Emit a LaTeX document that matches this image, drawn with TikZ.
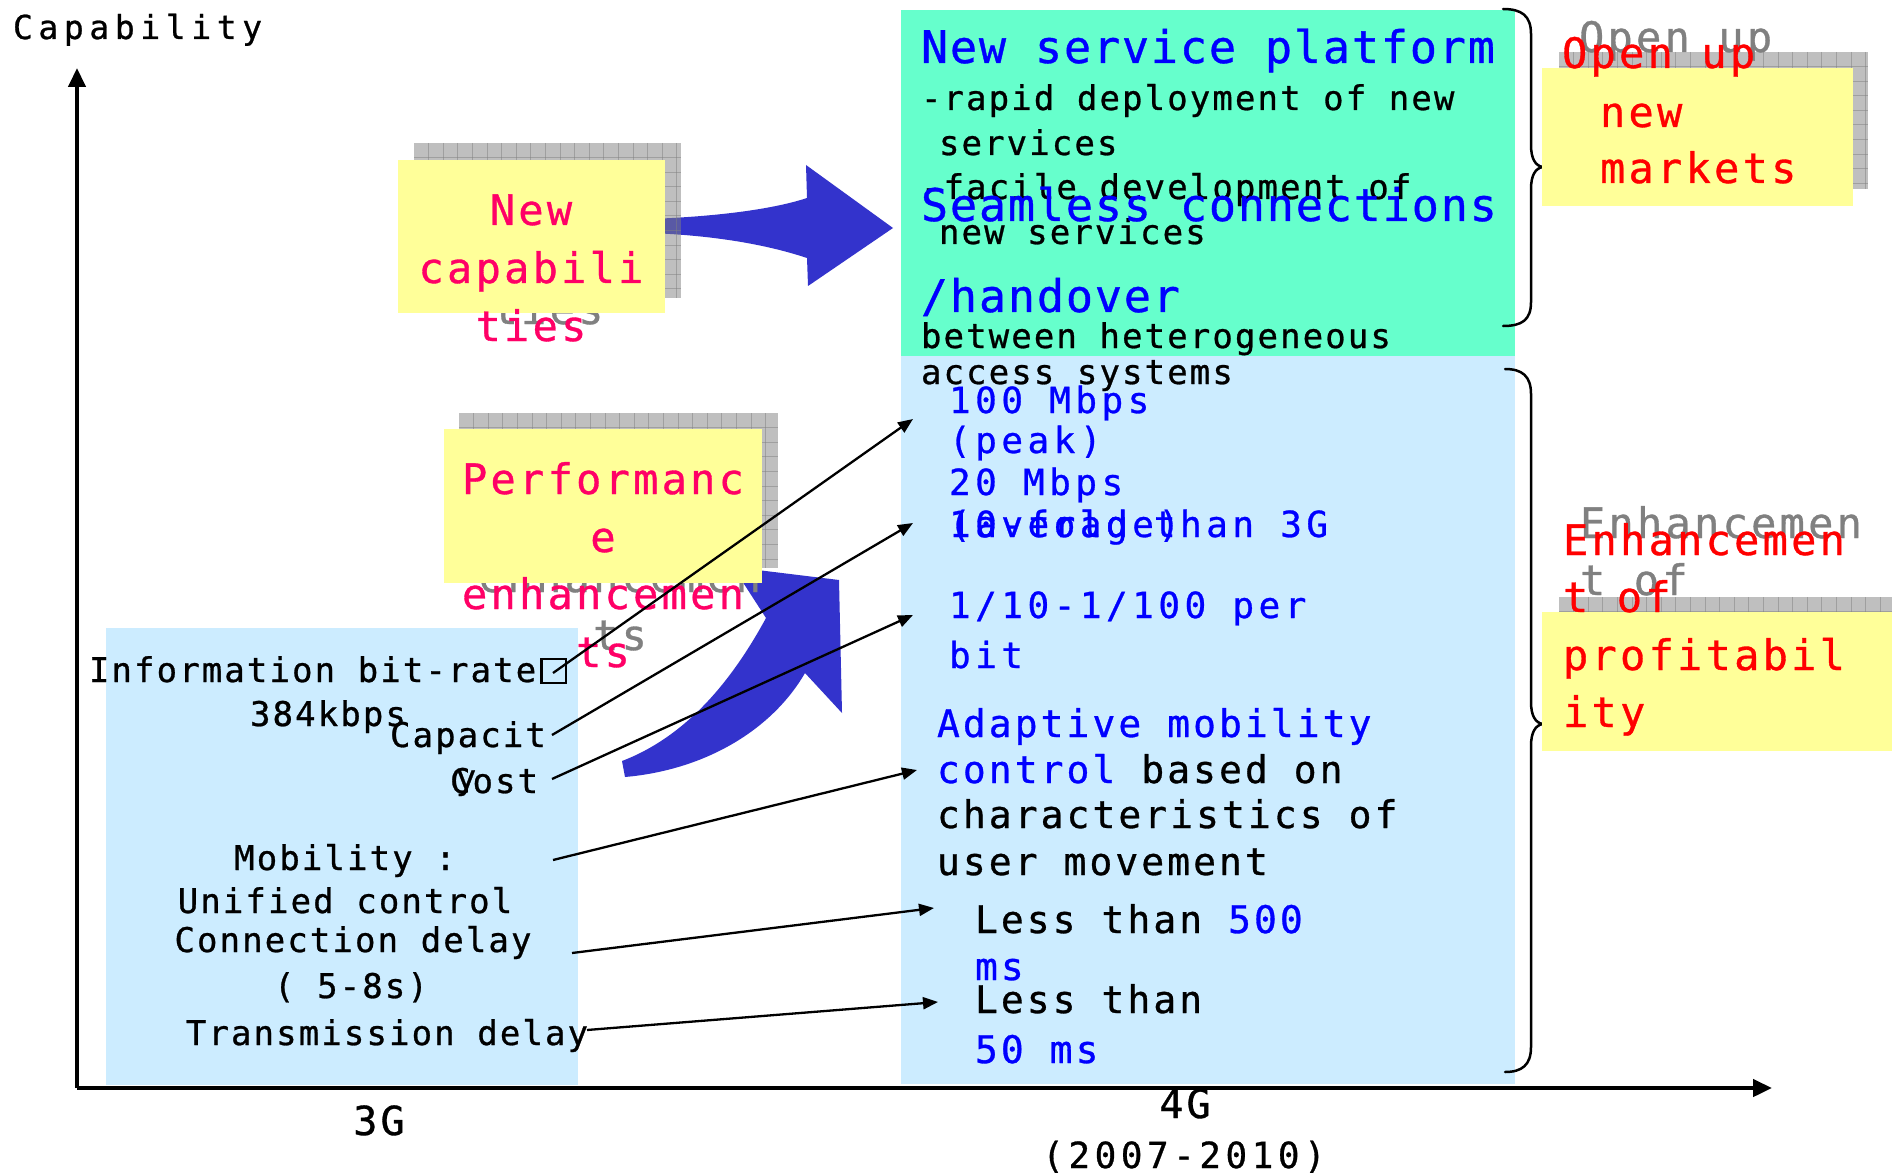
\documentclass[tikz,border=0pt]{standalone}
\usepackage{fontspec}
\usetikzlibrary{arrows.meta}
% monospaced faces with different tracking
\newfontfamily\fcap[LetterSpace=17,FakeBold=0.8]{DejaVu Sans Mono}
\newfontfamily\fblk[LetterSpace=6.2,FakeBold=0.8]{DejaVu Sans Mono}
\newfontfamily\fhead[LetterSpace=4.2,FakeBold=0.8]{DejaVu Sans Mono}
\newfontfamily\fmid[LetterSpace=12.5,FakeBold=0.8]{DejaVu Sans Mono}
\newfontfamily\fada[LetterSpace=8,FakeBold=0.8]{DejaVu Sans Mono}
\newfontfamily\fnote[LetterSpace=7.7,FakeBold=0.8]{DejaVu Sans Mono}
\definecolor{paleblue}{HTML}{CCECFF}
\definecolor{mint}{HTML}{66FFCC}
\definecolor{notey}{HTML}{FFFF99}
\definecolor{arrowblue}{HTML}{3333CC}
\definecolor{pinkred}{HTML}{FF0066}
\definecolor{ghost}{HTML}{808080}
% open square printed after "bit-rate"
\newcommand\openbox{\kern4pt{\setlength\fboxsep{0pt}\setlength\fboxrule{2.4pt}\fbox{\rule{0pt}{22pt}\hspace{22pt}}}}
\tikzset{
  every node/.style={inner sep=0pt, outer sep=0pt},
  txt/.style={anchor=base west},
  ctxt/.style={anchor=base},
  capf/.style={font=\fcap\fontsize{33}{40}\selectfont},
  axf/.style={font=\fada\fontsize{40}{48}\selectfont},
  blkf/.style={font=\fblk\fontsize{34}{40}\selectfont},
  headf/.style={font=\fhead\fontsize{45}{54}\selectfont, text=blue},
  midf/.style={font=\fmid\fontsize{36}{44}\selectfont},
  adaf/.style={font=\fada\fontsize{38}{46}\selectfont},
  notef/.style={font=\fnote\fontsize{42}{50}\selectfont},
  panel/.style={anchor=north west, draw=none},
  notebox/.style={anchor=north west, fill=notey},
  bigarrow/.style={fill=arrowblue},
  brace/.style={line width=2.5pt, line cap=round},
  link/.style={line width=2.3pt, -{Triangle[length=15pt,width=12pt]}},
  axis/.style={line width=4.5pt, -{Triangle[length=19pt,width=17pt]}}
}
% grey grid pad behind a sticky note
\newcommand\gridpad[4]{%
  \fill[ghost, fill opacity=0.5] (#1,#2) rectangle (#3,#4);
  \begin{scope}
    \clip (#1,#2) rectangle (#3,#4);
    \foreach \k in {1,...,24} {
      \draw[ghost, opacity=0.5, line width=1pt] ({#1+14.6*\k},#2) -- ({#1+14.6*\k},#4);
      \draw[ghost, opacity=0.5, line width=1pt] (#1,{#2+14.6*\k}) -- (#3,{#2+14.6*\k});
    }
  \end{scope}}
\begin{document}
\begin{tikzpicture}[x=1pt, y=-1pt]
\useasboundingbox (0,0) rectangle (1892,1174);
\fill[white] (0,0) rectangle (1892,1174);

% panels
\node[panel, fill=paleblue, minimum width=472pt, minimum height=457pt] (box3g) at (106,628) {};
\node[panel, fill=paleblue, minimum width=614pt, minimum height=728pt] (box4g) at (901,356) {};
\node[panel, fill=mint, minimum width=614pt, minimum height=346pt] (boxsvc) at (901,10) {};

% braces
\draw[brace] (1503,9) .. controls (1522,9) and (1531,16) .. (1531,34) -- (1531,145)
  .. controls (1531,158) and (1535,166) .. (1543,167)
  .. controls (1535,168) and (1531,176) .. (1531,189) -- (1531,302)
  .. controls (1531,320) and (1522,326) .. (1503,326);
\draw[brace] (1505,369) .. controls (1522,369) and (1531,376) .. (1531,394) -- (1531,702)
  .. controls (1531,715) and (1535,723) .. (1543,724)
  .. controls (1535,725) and (1531,733) .. (1531,746) -- (1531,1047)
  .. controls (1531,1065) and (1522,1072) .. (1505,1072);

% block arrows
\fill[bigarrow] (650,219) .. controls (730,216) and (780,207) .. (807,198) -- (806,165)
  -- (893,228) -- (808,286) -- (807,258) .. controls (780,249) and (730,236) .. (650,233) -- cycle;
\fill[bigarrow] (733,567) -- (839,580) -- (842,713) -- (805,673)
  .. controls (772,730) and (705,770) .. (625,777) -- (622,761)
  .. controls (690,735) and (735,675) .. (766,618) -- cycle;

% sticky notes: grid pad, grey echo, yellow card, red text
\gridpad{414}{143}{681}{298}
\gridpad{459}{413}{778}{568}
\gridpad{1559}{52}{1868}{189}
\gridpad{1559}{597}{1892}{735}

\node[notef, ctxt, text=ghost] (gc1) at (548,208) {New};
\node[notef, ctxt, text=ghost] (gc2) at (548,266) {capabili};
\node[notef, ctxt, text=ghost] (gc3) at (548,324) {ties};
\node[notef, ctxt, text=ghost] (gp1) at (620,477) {Performanc};
\node[notef, ctxt, text=ghost] (gp2) at (620,535) {e};
\node[notef, ctxt, text=ghost] (gp3) at (620,592) {enhancemen};
\node[notef, ctxt, text=ghost] (gp4) at (620,650) {ts};
\node[notef, txt, text=ghost] (go1) at (1579,52) {Open up};
\node[notef, txt, text=ghost] (go2) at (1617,111) {new};
\node[notef, txt, text=ghost] (go3) at (1617,167) {markets};
\node[notef, txt, text=ghost] (ge1) at (1580,538) {Enhancemen};
\node[notef, txt, text=ghost] (ge2) at (1580,595) {t of};
\node[notef, txt, text=ghost] (ge3) at (1580,653) {profitabil};
\node[notef, txt, text=ghost] (ge4) at (1580,710) {ity};

\node[notebox, minimum width=267pt, minimum height=153pt] (ncap) at (398,160) {};
\node[notebox, minimum width=318pt, minimum height=154pt] (nperf) at (444,429) {};
\node[notebox, minimum width=311pt, minimum height=138pt] (nmkt) at (1542,68) {};
\node[notebox, minimum width=350pt, minimum height=139pt] (nprof) at (1542,612) {};

\node[notef, ctxt, text=pinkred] (c1) at (531,225) {New};
\node[notef, ctxt, text=pinkred] (c2) at (531,283) {capabili};
\node[notef, ctxt, text=pinkred] (c3) at (531,341) {ties};
\node[notef, ctxt, text=pinkred] (p1) at (603,494) {Performanc};
\node[notef, ctxt, text=pinkred] (p2) at (603,552) {e};
\node[notef, ctxt, text=pinkred] (p3) at (603,609) {enhancemen};
\node[notef, ctxt, text=pinkred] (p4) at (603,667) {ts};
\node[notef, txt, text=red] (o1) at (1562,68) {Open up};
\node[notef, txt, text=red] (o2) at (1600,127) {new};
\node[notef, txt, text=red] (o3) at (1600,183) {markets};
\node[notef, txt, text=red] (e1) at (1563,555) {Enhancemen};
\node[notef, txt, text=red] (e2) at (1563,612) {t of};
\node[notef, txt, text=red] (e3) at (1563,670) {profitabil};
\node[notef, txt, text=red] (e4) at (1563,727) {ity};

% service platform panel
\node[headf, txt] (h1) at (921,63) {New service platform};
\node[blkf, txt] (s1) at (921,110) {-rapid deployment of new};
\node[blkf, txt] (s2) at (939,155) {services};
\node[blkf, txt] (s3) at (921,199) {-facile development of};
\node[blkf, txt] (s4) at (939,244) {new services};
\node[headf, txt] (h2) at (921,221) {Seamless connections};
\node[headf, txt] (h3) at (921,312) {/handover};
\node[blkf, txt] (s5) at (921,348) {between heterogeneous};
\node[blkf, txt] (s6) at (921,384) {access systems};

% 4G targets
\node[midf, txt, text=blue] (r1) at (949,413) {100 Mbps};
\node[midf, txt, text=blue] (r2) at (949,453) {(peak)};
\node[midf, txt, text=blue] (r3) at (949,495) {20 Mbps};
\node[midf, txt, text=blue] (r4) at (949,537) {10-fold than 3G};
\node[midf, txt, text=blue] (r5) at (949,537) {(average)};
\node[midf, txt, text=blue] (r6) at (949,618) {1/10-1/100 per};
\node[midf, txt, text=blue] (r7) at (949,668) {bit};
\node[adaf, txt, text=blue] (m1) at (937,737) {Adaptive mobility};
\node[adaf, txt] (m2) at (937,783) {{\color{blue}control} based on};
\node[adaf, txt] (m3) at (937,828) {characteristics of};
\node[adaf, txt] (m4) at (937,875) {user movement};
\node[adaf, txt] (d1) at (975,933) {Less than {\color{blue}500}};
\node[adaf, txt, text=blue] (d2) at (975,980) {ms};
\node[adaf, txt] (d3) at (975,1013) {Less than};
\node[adaf, txt, text=blue] (d4) at (975,1063) {50 ms};

% 3G figures
\node[blkf, ctxt] (b1) at (328,682) {Information bit-rate\openbox};
\node[blkf, ctxt] (b2) at (328,726) {384kbps};
\node[blkf, ctxt] (b3) at (468,747) {Capacit};
\node[blkf, ctxt] (b4) at (466,789) {y};
\node[blkf, txt] (b5) at (450,793) {Cost};
\node[blkf, ctxt] (b6) at (345,870) {Mobility :};
\node[blkf, ctxt] (b7) at (345,913) {Unified control};
\node[blkf, ctxt] (b8) at (353,952) {Connection delay};
\node[blkf, ctxt] (b9) at (351,998) {( 5-8s)};
\node[blkf, ctxt] (b10) at (387,1045) {Transmission delay};

% axes and labels
\coordinate (orig) at (77,1088);
\coordinate (ytop) at (77,68);
\coordinate (xend) at (1772,1088);
\draw[axis] (orig) -- (ytop);
\draw[axis] (orig) -- (xend);
\node[capf, txt] (ylab) at (13,39) {Capability};
\node[axf, ctxt] (g3) at (379,1135) {3G};
\node[axf, ctxt] (g4) at (1185,1118) {4G};
\node[midf, ctxt] (g4y) at (1184,1168) {(2007-2010)};

% links from 3G figures to 4G targets
\coordinate (la) at (553,673);  \coordinate (ta) at (913,419);
\coordinate (lb) at (552,735);  \coordinate (tb) at (913,523);
\coordinate (lc) at (552,779);  \coordinate (tc) at (913,615);
\coordinate (ld) at (553,860);  \coordinate (td) at (917,770);
\coordinate (le) at (572,953);  \coordinate (te) at (934,908);
\coordinate (lf) at (587,1030); \coordinate (tf) at (938,1002);
\draw[link] (la) -- (ta);
\draw[link] (lb) -- (tb);
\draw[link] (lc) -- (tc);
\draw[link] (ld) -- (td);
\draw[link] (le) -- (te);
\draw[link] (lf) -- (tf);
\end{tikzpicture}
\end{document}
